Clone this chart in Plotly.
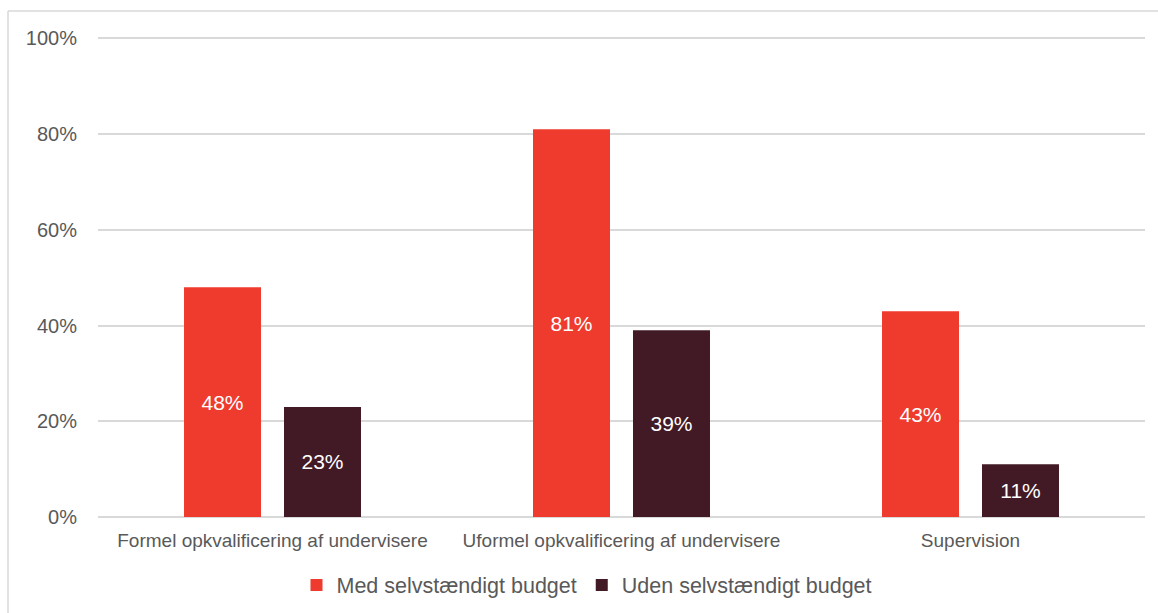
import plotly.graph_objects as go

categories = [
    "Formel opkvalificering af undervisere",
    "Uformel opkvalificering af undervisere",
    "Supervision",
]
med_budget = [48, 81, 43]
uden_budget = [23, 39, 11]
series_names = ["Med selvstændigt budget", "Uden selvstændigt budget"]
y_ticks = [0, 20, 40, 60, 80, 100]
y_tick_labels = ["0%", "20%", "40%", "60%", "80%", "100%"]

RED = "#EE3B2E"
DARK = "#421A25"
GREY_TEXT = "#595959"
GRID = "#D9D9D9"
FONT = "Liberation Sans, Arial, sans-serif"

W, H = 1158, 613
ML, MR, MT, MB = 98, 13, 37, 96
PW, PH = W - ML - MR, H - MT - MB


def px_to_paper_x(px):
    return (px - ML) / PW


def px_to_paper_y(py):
    return (H - MB - py) / PH


fig = go.Figure()
for name, vals, color in [
    (series_names[0], med_budget, RED),
    (series_names[1], uden_budget, DARK),
]:
    fig.add_trace(
        go.Bar(
            name=name,
            x=categories,
            y=vals,
            marker=dict(color=color, line=dict(width=0)),
            text=[f"{v}%" for v in vals],
            textposition="inside",
            insidetextanchor="middle",
            textangle=0,
            textfont=dict(color="white", size=21, family=FONT),
            hoverinfo="skip",
        )
    )

# Chart-area frame: top and left edges
fig.add_shape(type="line", xref="paper", yref="paper",
              x0=px_to_paper_x(8), x1=px_to_paper_x(1170),
              y0=px_to_paper_y(11), y1=px_to_paper_y(11),
              line=dict(color=GRID, width=1.5))
fig.add_shape(type="line", xref="paper", yref="paper",
              x0=px_to_paper_x(8), x1=px_to_paper_x(8),
              y0=px_to_paper_y(11), y1=px_to_paper_y(620),
              line=dict(color=GRID, width=1.5))

fig.update_layout(
    width=W,
    height=H,
    margin=dict(l=ML, r=MR, t=MT, b=MB, autoexpand=False),
    paper_bgcolor="white",
    plot_bgcolor="white",
    barmode="group",
    bargap=0.427,
    bargroupgap=0.23,
    font=dict(family=FONT, color=GREY_TEXT),
    showlegend=True,
    legend=dict(
        orientation="h",
        x=px_to_paper_x(587),
        xanchor="center",
        y=px_to_paper_y(585),
        yanchor="middle",
        font=dict(size=21.5, color=GREY_TEXT, family=FONT),
        tracegroupgap=0,
        bgcolor="rgba(0,0,0,0)",
    ),
    xaxis=dict(
        showgrid=False,
        showline=False,
        zeroline=False,
        ticks="outside",
        ticklen=6,
        tickcolor="rgba(0,0,0,0)",
        tickfont=dict(size=19, color=GREY_TEXT, family=FONT),
    ),
    yaxis=dict(
        range=[0, 100.3],
        tickvals=y_ticks,
        ticktext=y_tick_labels,
        showgrid=True,
        gridcolor=GRID,
        gridwidth=1.5,
        zeroline=True,
        zerolinecolor=GRID,
        zerolinewidth=1.5,
        showline=False,
        ticks="outside",
        ticklen=16,
        tickcolor="rgba(0,0,0,0)",
        tickfont=dict(size=20, color=GREY_TEXT, family=FONT),
    ),
)

fig.write_html("out.html")
